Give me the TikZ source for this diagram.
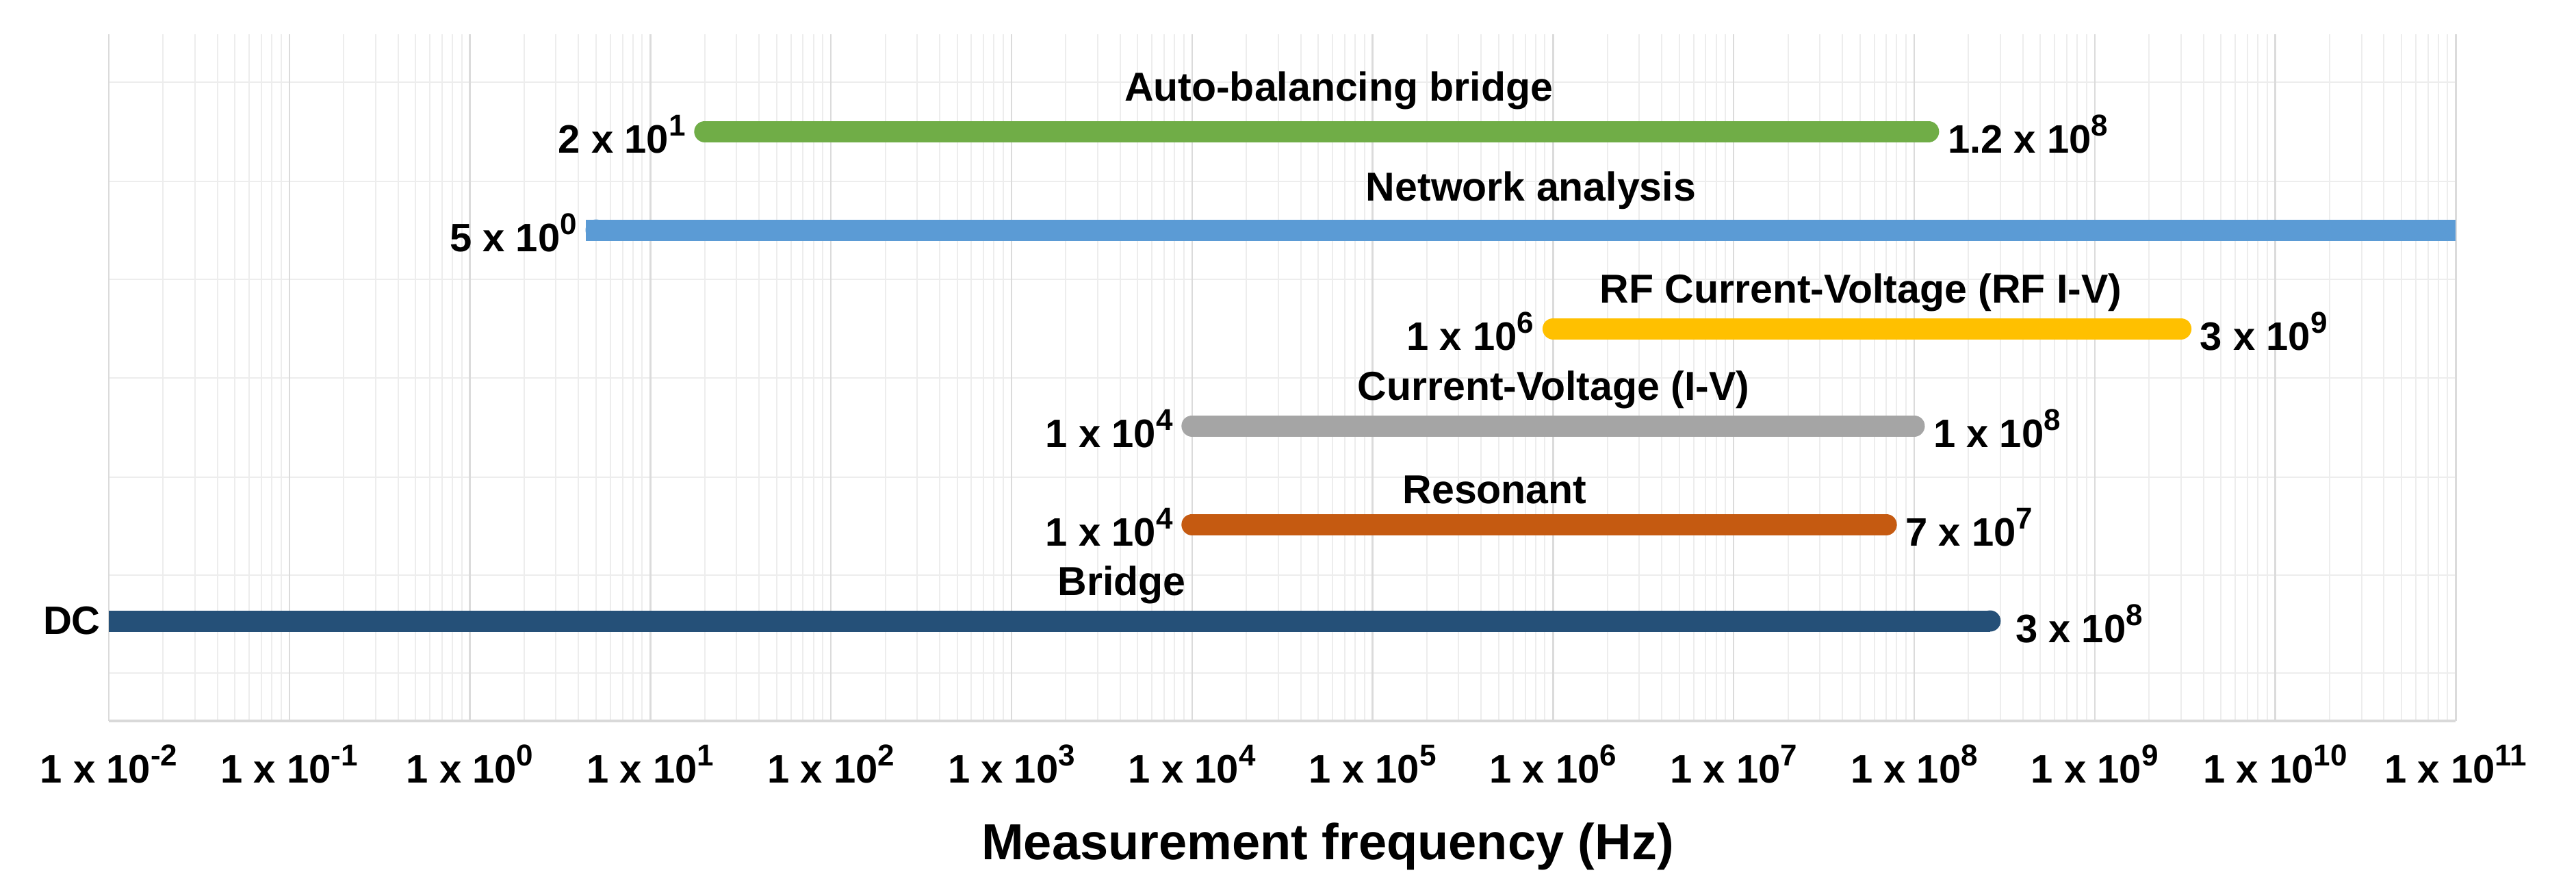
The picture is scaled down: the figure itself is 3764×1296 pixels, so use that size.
\documentclass[tikz,border=0pt]{standalone}
\usepackage{fontspec}
\setmainfont{Liberation Sans}
\newcommand\ex[2]{#1 x 10\raisebox{0.42em}{\fontsize{44}{44}\selectfont #2}}
\definecolor{cgreen}{HTML}{70AD47}
\definecolor{cblue}{HTML}{5B9BD5}
\definecolor{cyellow}{HTML}{FFC000}
\definecolor{cgray}{HTML}{A5A5A5}
\definecolor{corange}{HTML}{C55A11}
\definecolor{cnavy}{HTML}{255078}
\begin{document}
\begin{tikzpicture}[x=1pt,y=-1pt,
  lbl/.style={font=\fontsize{58}{62}\selectfont\bfseries, inner sep=0pt},
  ttl/.style={font=\fontsize{59}{62}\selectfont\bfseries, inner sep=0pt},
  bar/.style={line width=31pt, line cap=round},
  minor/.style={draw=black!7, line width=2pt},
  major/.style={draw=black!14, line width=2.5pt}]
\useasboundingbox (0,0) rectangle (3764,1296);
\def\L{159}\def\D{263.8}
% grid
\foreach \d in {0,...,12}{
  \foreach \m in {2,...,9}{
    \draw[minor] ({\L+(\d+log10(\m))*\D},50) -- ({\L+(\d+log10(\m))*\D},1053);
  }}
\foreach \yy in {120,265,408,552,697,840,983}
  \draw[minor] (\L,\yy) -- (3588,\yy);
\foreach \d in {0,...,13}
  \draw[major] ({\L+\d*\D},50) -- ({\L+\d*\D},1053);
\draw[draw=black!15, line width=4pt] (\L,1053) -- (3588,1053);
% tick labels
\foreach \d [evaluate=\d as \e using int(\d-2)] in {0,...,13}
  \node[lbl] (t\d) at ({\L+\d*\D},1116) {\ex{1}{\e}};
\node[font=\fontsize{74}{78}\selectfont\bfseries] (xt) at (1940,1236) {Measurement frequency (Hz)};
% bars
\def\X#1{\L+(#1+2)*\D}
\coordinate (g1) at ({\X{1.301}},192); \coordinate (g2) at ({\X{8.079}},192);
\coordinate (b1) at ({\X{0.699}},336); \coordinate (b2) at (3588,336);
\coordinate (y1) at ({\X{6}},480);     \coordinate (y2) at ({\X{9.477}},480);
\coordinate (a1) at ({\X{4}},622);     \coordinate (a2) at ({\X{8}},622);
\coordinate (o1) at ({\X{4}},766);     \coordinate (o2) at ({\X{7.845}},766);
\coordinate (n1) at (\L,907);          \coordinate (n2) at ({\X{8.477}},907);
\draw[bar,cgreen] (g1) -- (g2);
\draw[bar,cblue,line cap=butt] ([xshift=-15pt]b1) -- (b2);
\fill[cblue] (b1) circle (15.5pt);
\draw[bar,cyellow] (y1) -- (y2);
\draw[bar,cgray] (a1) -- (a2);
\draw[bar,corange] (o1) -- (o2);
\draw[bar,cnavy,line cap=butt] (n1) -- ([xshift=-15pt]n2);
\fill[cnavy] ([xshift=-15pt]n2) circle (15.5pt);
% titles
\node[ttl] (tg) at (1956,132) {Auto-balancing bridge};
\node[ttl] (tb) at (2237,278) {Network analysis};
\node[ttl] (ty) at (2719,427) {RF Current-Voltage (RF I-V)};
\node[ttl] (ta) at (2270,569) {Current-Voltage (I-V)};
\node[ttl] (to) at (2184,715) {Resonant};
\node[ttl] (tn) at (1639,854) {Bridge};
% end labels
\node[lbl,anchor=east] (lg1) at ([xshift=-28pt,yshift=-4pt]g1) {\ex{2}{1}};
\node[lbl,anchor=west] (lg2) at ([xshift=28pt,yshift=-4pt]g2) {\ex{1.2}{8}};
\node[lbl,anchor=east] (lb1) at ([xshift=-28pt,yshift=-4pt]b1) {\ex{5}{0}};
\node[lbl,anchor=east] (ly1) at ([xshift=-28pt,yshift=-4pt]y1) {\ex{1}{6}};
\node[lbl,anchor=west] (ly2) at ([xshift=28pt,yshift=-4pt]y2) {\ex{3}{9}};
\node[lbl,anchor=east] (la1) at ([xshift=-28pt,yshift=-4pt]a1) {\ex{1}{4}};
\node[lbl,anchor=west] (la2) at ([xshift=28pt,yshift=-4pt]a2) {\ex{1}{8}};
\node[lbl,anchor=east] (lo1) at ([xshift=-28pt,yshift=-4pt]o1) {\ex{1}{4}};
\node[lbl,anchor=west] (lo2) at ([xshift=28pt,yshift=-4pt]o2) {\ex{7}{7}};
\node[lbl,anchor=east] (ln1) at ([xshift=-12pt]n1) {DC};
\node[lbl,anchor=west] (ln2) at ([xshift=22pt,yshift=-4pt]n2) {\ex{3}{8}};
\end{tikzpicture}
\end{document}
